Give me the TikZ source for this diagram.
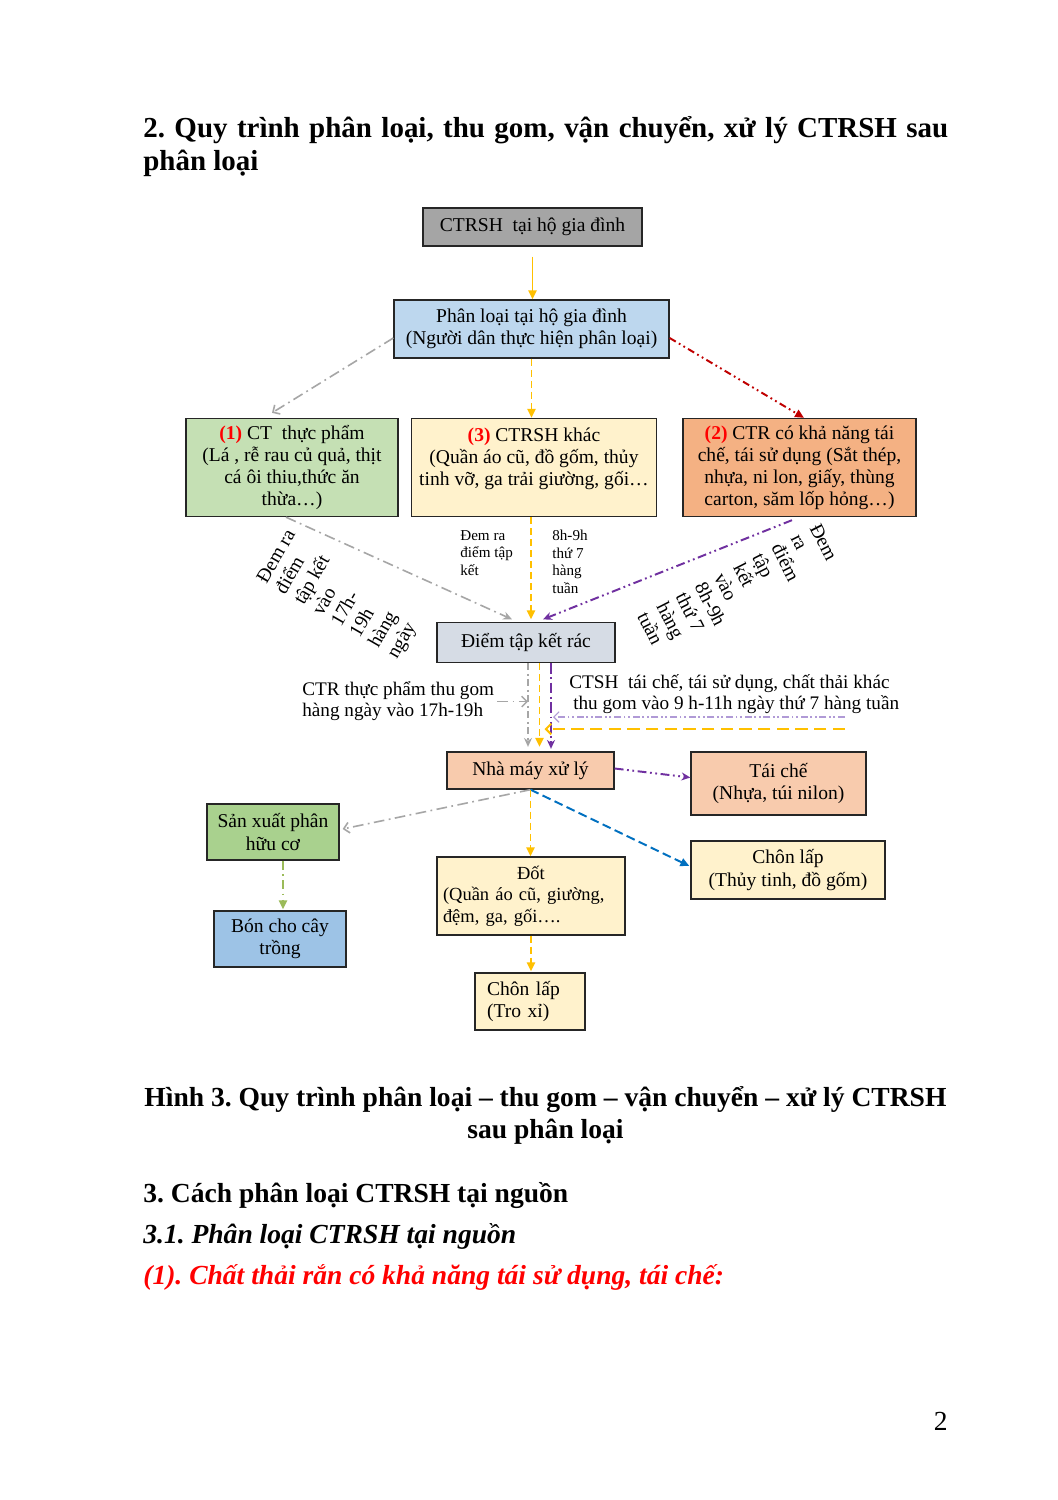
\documentclass[tikz,border=0pt]{standalone}
\usepackage{fontspec}
\setmainfont{Liberation Serif}
\usetikzlibrary{arrows.meta,calc}
\frenchspacing
\newlength\pxu \setlength\pxu{0.5625pt}
\newcommand\bxf{\fontsize{11pt}{12.4pt}\selectfont}
\newcommand\dtf{\fontsize{10.4pt}{12.2pt}\selectfont}
\newcommand\smf{\fontsize{8.5pt}{9.8pt}\selectfont}
\newcommand\hdf{\fontsize{15.5pt}{18.6pt}\selectfont}
\newcommand\ttf{\fontsize{16.3pt}{18.6pt}\selectfont}
\newcommand\rlf{\fontsize{11pt}{12.1pt}\selectfont}
\newcommand\lbf{\fontsize{10.8pt}{11.8pt}\selectfont}
\definecolor{cgray}{HTML}{A5A5A5}
\definecolor{cblue}{HTML}{BDD7EE}
\definecolor{cgreen}{HTML}{C5E0B4}
\definecolor{cyellow}{HTML}{FFF2CC}
\definecolor{corange}{HTML}{F4B183}
\definecolor{cdiem}{HTML}{D6DCE5}
\definecolor{cpeach}{HTML}{F8CBAD}
\definecolor{cgreentwo}{HTML}{A9D18E}
\definecolor{cbluetwo}{HTML}{9DC3E6}
\definecolor{gold}{HTML}{FFC000}
\definecolor{lgray}{HTML}{A6A6A6}
\definecolor{dred}{HTML}{C00000}
\definecolor{purp}{HTML}{7030A0}
\definecolor{lpurp}{HTML}{B09AD6}
\definecolor{blu}{HTML}{0070C0}
\definecolor{grn}{HTML}{9BBB59}
\definecolor{numred}{HTML}{FF0000}
\definecolor{bordc}{HTML}{262626}
\newcommand\rn[1]{\textcolor{numred}{\textbf{#1}}}
\begin{document}
\begin{tikzpicture}[x=0.5625pt,y=-0.5625pt,
  box/.style={draw=bordc, line width=0.75pt, inner sep=0pt, align=center, font=\bxf},
  con/.style={line width=1.1pt},
  goldsolid/.style={con, draw=gold, -{Triangle[length=5pt,width=4.5pt]}},
  golddash/.style={goldsolid, dash pattern=on 4pt off 2.2pt},
  graydd/.style={con, line width=0.9pt, draw=lgray, dash pattern=on 6pt off 2.5pt on 1pt off 2.5pt, -{Stealth[length=5pt,width=4.5pt]}},
  grayopen/.style={graydd, -{Straight Barb[length=3pt,width=6pt]}},
  reddd/.style={con, draw=dred, dash pattern=on 4pt off 2pt on 1pt off 2pt on 1pt off 2pt, -{Triangle[length=5pt,width=4.5pt]}},
  purpdd/.style={con, draw=purp, dash pattern=on 5pt off 2pt on 1pt off 2pt on 1pt off 2pt, -{Stealth[length=5pt,width=4.5pt]}},
  bluedash/.style={con, draw=blu, dash pattern=on 5pt off 2.5pt, -{Triangle[length=5pt,width=4.5pt]}},
  greendd/.style={con, draw=grn, dash pattern=on 5pt off 2.5pt on 1pt off 2.5pt, -{Triangle[length=5pt,width=4.5pt]}},
  thinpurp/.style={line width=0.6pt, draw=lpurp, dash pattern=on 4pt off 1.5pt on 1pt off 1.5pt on 1pt off 1.5pt, -{Straight Barb[length=3pt,width=6pt]}},
  goldlong/.style={con, draw=gold, dash pattern=on 7pt off 3.5pt, -{Straight Barb[length=3pt,width=6pt]}},
  lbl/.style={inner sep=0pt, align=left}
]
\useasboundingbox (0,0) rectangle (1058,1500);
\fill[white] (0,0) rectangle (1058,1500);

% headings
\node[anchor=base west, inner sep=0pt, font=\ttf\bfseries] (title1) at (143,137) {\makebox[805\pxu][s]{2. Quy trình phân loại, thu gom, vận chuyển, xử lý CTRSH sau}};
\node[anchor=base west, inner sep=0pt, font=\ttf\bfseries] (title2) at (143,170) {phân loại};

% boxes
\node[box, fill=cgray, minimum width=219*\pxu, minimum height=38*\pxu] (n1) at (532.5,227) {CTRSH\ \ tại hộ gia đình};
\node[box, fill=cblue, minimum width=275*\pxu, minimum height=58*\pxu] (n2) at (531.5,329) {Phân loại tại hộ gia đình\\(Người dân thực hiện phân loại)};
\node[box, fill=cgreen, minimum width=212*\pxu, minimum height=98*\pxu] (n3) at (292,467.5) {\rn{(1)} CT\ \ thực phẩm\\(Lá , rễ rau củ quả, thịt\\cá ôi thiu,thức ăn\\thừa…)};
\node[box, fill=cyellow, minimum width=245*\pxu, minimum height=98*\pxu] (n4) at (534,467.5) {\rn{(3)} CTRSH khác\\(Quần áo cũ, đồ gốm, thủy\\tinh vỡ, ga trải giường, gối…\\ \mbox{}};
\node[box, fill=corange, minimum width=233*\pxu, minimum height=98*\pxu] (n5) at (799.5,467.5) {\rn{(2)} CTR có khả năng tái\\chế, tái sử dụng (Sắt thép,\\nhựa, ni lon, giấy, thùng\\carton, săm lốp hỏng…)};
\node[box, fill=cdiem, minimum width=178*\pxu, minimum height=40*\pxu] (n6) at (526,642.5) {Điểm tập kết rác};
\node[box, fill=cpeach, minimum width=167*\pxu, minimum height=37*\pxu] (n7) at (530.5,770.5) {Nhà máy xử lý};
\node[box, fill=cpeach, minimum width=175*\pxu, minimum height=63*\pxu] (n8) at (778.5,783.5) {Tái chế\\(Nhựa, túi nilon)};
\node[box, fill=cyellow, minimum width=194*\pxu, minimum height=58*\pxu] (n9) at (788,870) {Chôn lấp\\(Thủy tinh, đồ gốm)};
\node[box, fill=cgreentwo, minimum width=132*\pxu, minimum height=56*\pxu] (n10) at (273,832) {Sản xuất phân\\hữu cơ};
\node[box, fill=cbluetwo, minimum width=132*\pxu, minimum height=56*\pxu] (n11) at (280,939) {Bón cho cây\\trồng};
\node[box, fill=cyellow, minimum width=188*\pxu, minimum height=78*\pxu, text width=176*\pxu, align=left, font=\dtf] (n12) at (531,896) {\makebox[\hsize][c]{Đốt}\\(Quần áo cũ, giường,\\đệm, ga, gối….};
\node[box, fill=cyellow, minimum width=110*\pxu, minimum height=57*\pxu, text width=86*\pxu, align=left] (n13) at (530,1001.5) {Chôn lấp\\(Tro xỉ)};

% labels
\node[lbl, font=\rlf, rotate=60, anchor=north west] (lblL) at (255,578) {Đem ra\\điểm\\tập kết\\vào\\17h-\\19h\\hàng\\ngày};
\node[lbl, font=\rlf, rotate=-63, anchor=north west] (lblR) at (821,522) {Đem\\ra\\điểm\\tập\\kết\\vào\\8h-9h\\thứ 7\\hàng\\tuần};
\node[lbl, font=\smf, anchor=north west] (lblM1) at (460,530) {Đem ra\\điểm tập\\kết};
\node[lbl, font=\smf, anchor=north west] (lblM2) at (552,530) {8h-9h\\thứ 7\\hàng\\tuần};
\node[lbl, font=\lbf, anchor=west] (lblctr) at (302,701.5) {CTR thực phẩm thu gom\\hàng ngày vào 17h-19h};
\node[lbl, font=\lbf, anchor=west] (lblctsh) at (569,694) {CTSH\ \ tái chế, tái sử dụng, chất thải khác\\\hspace{2.2pt}thu gom vào 9 h-11h ngày thứ 7 hàng tuần};

% connectors top
\draw[goldsolid] ($(n1.south)+(0,10)$) -- (n1.south |- n2.north);
\draw[golddash] (n2.south) -- (n2.south |- n4.north);
\draw[grayopen] ($(n2.west)+(0,9)$) -- ($(n3.north)+(-20,-5)$);
\draw[reddd] ($(n2.east)+(0,9)$) -- ($(n5.north)+(4.5,0)$);

\draw[graydd] ($(n3.south)+(-6,0)$) -- ($(n6.north)+(-14,-2.5)$);
\draw[golddash] ($(n4.south)+(-3,0)$) -- ($(n6.north)+(5,-2.5)$);
\draw[purpdd] ($(n5.south)+(-7.5,3)$) -- ($(n6.north)+(17,-2.5)$);

% vertical from collection point
\coordinate (gxv) at ($(n6.south)+(2,0)$);
\coordinate (oxv) at ($(n6.south)+(13.5,0)$);
\coordinate (pxv) at ($(n6.south)+(25,0)$);
\draw[graydd, line width=0.8pt, dash pattern=on 4pt off 2pt on 1pt off 2pt] (gxv) -- ($(n7.north)+(-2.5,-4.5)$);
\draw[golddash] (oxv) -- ($(n7.north)+(9,-4.5)$);
\draw[purpdd, line width=0.9pt, dash pattern=on 6pt off 2pt on 1pt off 2pt] (pxv) -- ($(n7.north)+(20.5,-2.5)$);

% horizontal feeds
\draw[grayopen, line width=0.8pt] ($(lblctr.east)+(3,0)$) -- (lblctr.east -| gxv);
\coordinate (pr) at (845,717);
\coordinate (gr) at (845,729);
\draw[thinpurp] (pr) -- ($(pxv |- pr)+(2,0)$);
\draw[goldlong] (gr) -- ($(oxv |- gr)+(5,0)$);

% from factory
\draw[purpdd] ($(n7.east)+(0,-2)$) -- ($(n8.west)+(0,-6)$);
\draw[grayopen] (n7.south) -- ($(n10.east)+(3,-3)$);
\draw[bluedash] (n7.south) -- ($(n9.west)+(-1,-4)$);
\draw[golddash] (n7.south) -- (n7.south |- n12.north);
\draw[greendd] ($(n10.south)+(10,0)$) -- ($(n11.north)+(3,-1)$);
\draw[golddash] (n12.south) -- ($(n12.south |- n13.north)+(0,-1)$);

% caption and following text
\node[anchor=base, inner sep=0pt, font=\hdf\bfseries] (cap1) at (545.5,1106) {Hình 3. Quy trình phân loại – thu gom – vận chuyển – xử lý CTRSH};
\node[anchor=base, inner sep=0pt, font=\hdf\bfseries] (cap2) at (545.5,1138) {sau phân loại};
\node[anchor=base west, inner sep=0pt, font=\hdf\bfseries] (h3) at (143,1202) {3. Cách phân loại CTRSH tại nguồn};
\node[anchor=base west, inner sep=0pt, font=\hdf\bfseries\itshape] (h31) at (143,1243) {3.1. Phân loại CTRSH tại nguồn};
\node[anchor=base west, inner sep=0pt, font=\hdf\bfseries\itshape, text=numred] (h1) at (143,1284) {(1). Chất thải rắn có khả năng tái sử dụng, tái chế:};
\node[anchor=base east, inner sep=0pt, font=\hdf] (pg) at (948,1430) {2};
\end{tikzpicture}
\end{document}
